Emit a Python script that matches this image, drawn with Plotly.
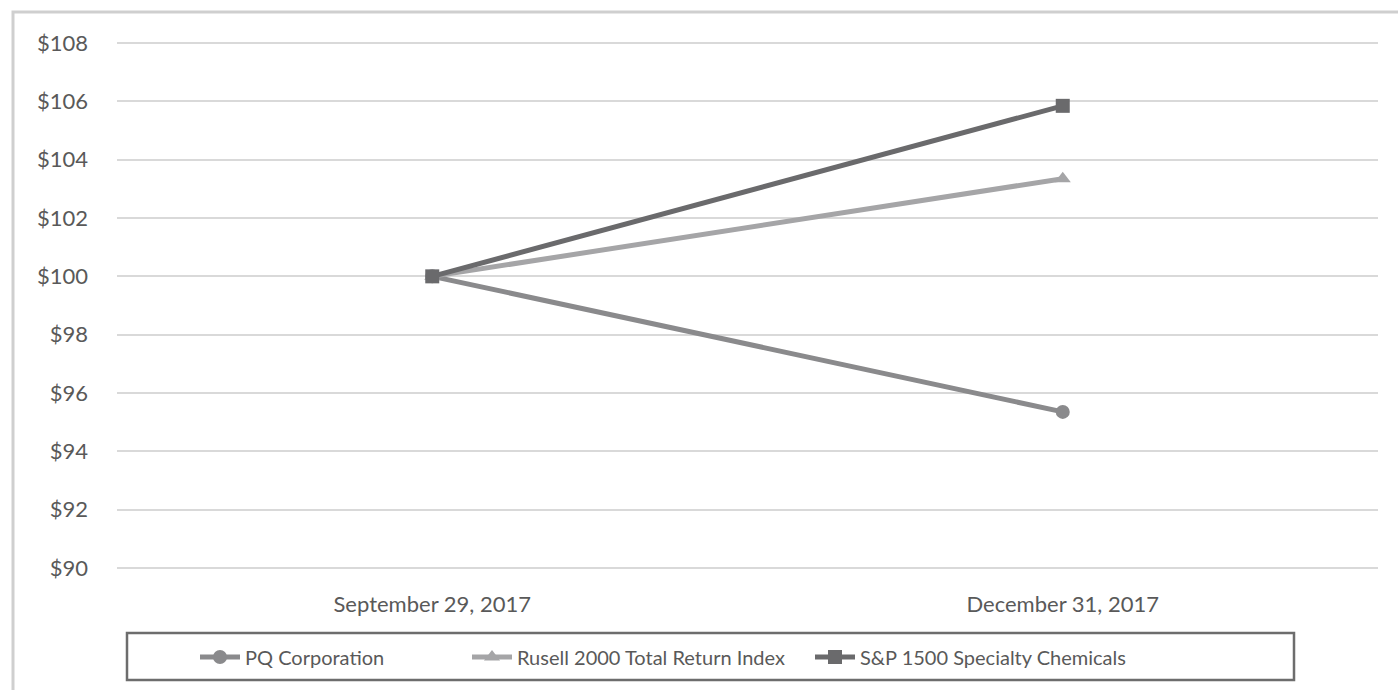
import plotly.graph_objects as go

categories = ["September 29, 2017", "December 31, 2017"]
pq_corp = [100.0, 95.35]
russell_2000 = [100.0, 103.35]
sp_1500_chem = [100.0, 105.85]
y_ticks = [90, 92, 94, 96, 98, 100, 102, 104, 106, 108]
y_tick_labels = ["$" + str(v) for v in y_ticks]

FONT = "Lato, 'Open Sans', sans-serif"
TEXT = "#595959"
FS = 22
LFS = 20

W, H = 1398, 690
ml, mr, mt, mb = 117, 20, 42, 121
pw, ph = W - ml - mr, H - mt - mb

def px_x(p):
    return (p - ml) / pw

def px_y(p):
    return (H - mb - p) / ph

fig = go.Figure()
series = [
    ("PQ Corporation", pq_corp, "#8a8a8c", "circle", "legend", 195),
    ("Rusell 2000 Total Return Index", russell_2000, "#a5a5a7", "triangle-up", "legend2", 467),
    ("S&P 1500 Specialty Chemicals", sp_1500_chem, "#6a6a6c", "square", "legend3", 810),
]
legends = {}
for name, vals, col, sym, lg, lx in series:
    fig.add_trace(go.Scatter(
        x=categories, y=vals, name=name, mode="lines+markers",
        line=dict(color=col, width=5),
        marker=dict(color=col, symbol=sym, size=14, line=dict(width=0)),
        legend=lg,
    ))
    legends[lg] = dict(orientation="h", x=px_x(lx), xanchor="left",
                       y=px_y(657), yanchor="middle",
                       bgcolor="rgba(0,0,0,0)", borderwidth=0,
                       font=dict(family=FONT, size=LFS, color=TEXT),
                       itemwidth=40)

shapes = [
    # outer chart frame
    dict(type="rect", xref="paper", yref="paper", layer="below",
         x0=px_x(13), x1=px_x(1410), y0=px_y(700), y1=px_y(12),
         line=dict(color="#cfcfcf", width=3), fillcolor="rgba(0,0,0,0)"),
    # legend frame
    dict(type="rect", xref="paper", yref="paper",
         x0=px_x(127), x1=px_x(1294), y0=px_y(680), y1=px_y(633),
         line=dict(color="#6d6d6d", width=2.5), fillcolor="rgba(0,0,0,0)"),
]

fig.update_layout(
    width=W, height=H,
    margin=dict(l=ml, r=mr, t=mt, b=mb),
    paper_bgcolor="white", plot_bgcolor="white",
    font=dict(family=FONT, color=TEXT, size=FS),
    showlegend=True,
    xaxis=dict(type="category", range=[-0.5, 1.5], showgrid=False, showline=False,
               zeroline=False, ticks="", tickfont=dict(size=FS, color=TEXT),
               ticklabelstandoff=20),
    yaxis=dict(range=[89.96, 108.04], tickvals=y_ticks, ticktext=y_tick_labels,
               showgrid=True, gridcolor="#d9d9d9", gridwidth=2, zeroline=False,
               showline=False, ticks="", tickfont=dict(size=FS, color=TEXT),
               ticklabelstandoff=28),
    shapes=shapes,
    **legends,
)

fig.write_html("out.html")
